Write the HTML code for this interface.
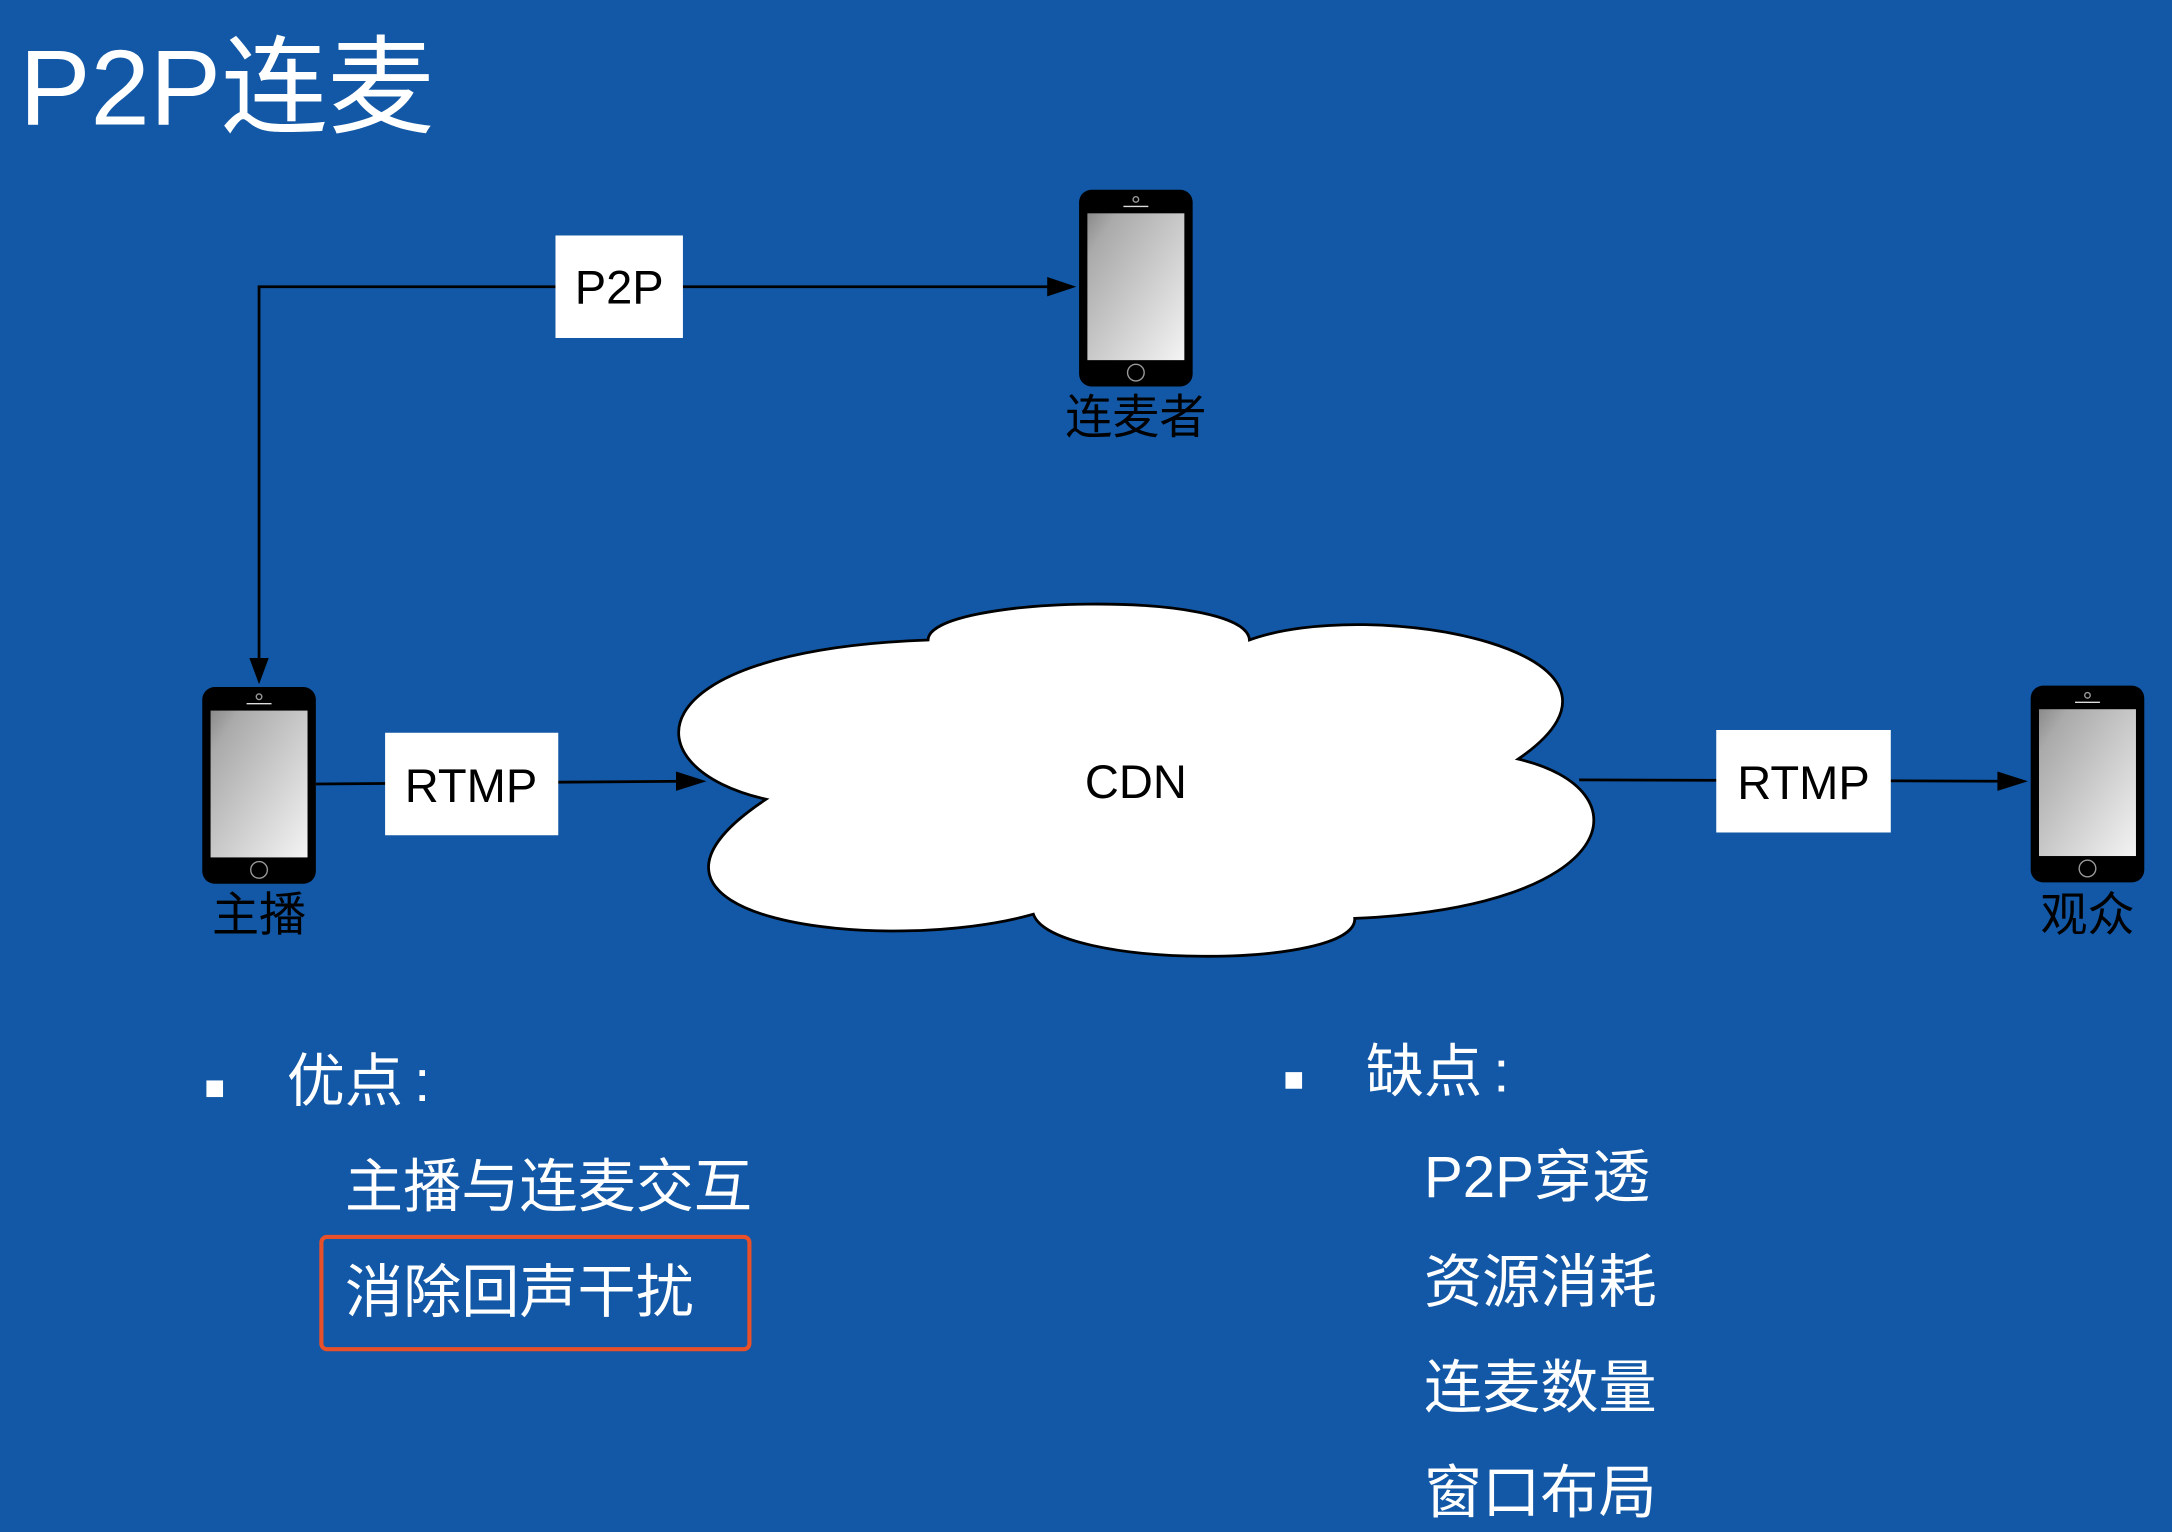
<!DOCTYPE html>
<html><head><meta charset="utf-8"><style>
html,body{margin:0;padding:0;background:#1258a6;}
svg{display:block}
text{font-family:"Liberation Sans","Noto Sans CJK SC",sans-serif;}
</style></head><body>
<svg width="2172" height="1532" viewBox="0 0 1568 1106" xmlns="http://www.w3.org/2000/svg">
<defs>
<linearGradient id="g" x1="0" y1="0" x2="1" y2="1">
<stop offset="0" stop-color="#8a8a8a"/><stop offset="0.15" stop-color="#aaa"/><stop offset="1" stop-color="#f4f4f4"/>
</linearGradient>
<g id="phone">
<rect x="0" y="0" width="82" height="142" rx="9" fill="#000"/>
<rect x="6" y="17" width="70" height="106" fill="url(#g)"/>
<circle cx="41" cy="7" r="2" fill="none" stroke="#999" stroke-width="1"/>
<line x1="32" y1="12" x2="50" y2="12" stroke="#ddd" stroke-width="1"/>
<circle cx="41" cy="132" r="6" fill="none" stroke="#999" stroke-width="1"/>
</g>
</defs>
<rect width="1568" height="1106" fill="#1258a6"/>
<text x="14" y="90" font-size="77" fill="#fff">P2P连麦</text>

<polyline points="402,207 187,207 187,478" fill="none" stroke="#000" stroke-width="2"/>
<polygon points="180,475 194,475 187,494" fill="#000"/>
<line x1="493" y1="207" x2="760" y2="207" stroke="#000" stroke-width="2"/>
<polygon points="756,200 756,214 777,207" fill="#000"/>
<rect x="401" y="170" width="92" height="74" fill="#fff"/>
<text x="447" y="219" font-size="34" text-anchor="middle" fill="#000">P2P</text>

<use href="#phone" x="779" y="137"/>
<text x="820" y="313" font-size="34" text-anchor="middle" fill="#000">连麦者</text>

<use href="#phone" x="146" y="496"/>
<text x="187" y="672" font-size="34" text-anchor="middle" fill="#000">主播</text>

<use href="#phone" x="1466" y="495"/>
<text x="1507" y="672" font-size="34" text-anchor="middle" fill="#000">观众</text>

<line x1="228" y1="566" x2="495" y2="564" stroke="#000" stroke-width="2"/>
<polygon points="488,557 488,571 510,564" fill="#000"/>
<rect x="278" y="529" width="125" height="74" fill="#fff"/>
<text x="340" y="579" font-size="34" text-anchor="middle" fill="#000">RTMP</text>

<path d="M553,577 C455,555 455,470 670,462 C670,430 900,425 902,462 C990,430 1210,470 1096,548 C1190,570 1170,655 978,663 C980,700 760,700 746,660 C640,690 420,665 553,577 Z" fill="#fff" stroke="#000" stroke-width="2"/>
<text x="820" y="576" font-size="34" text-anchor="middle" fill="#000">CDN</text>

<line x1="1140" y1="563" x2="1448" y2="564" stroke="#000" stroke-width="2"/>
<polygon points="1442,557 1442,571 1464,564" fill="#000"/>
<rect x="1239" y="527" width="126" height="74" fill="#fff"/>
<text x="1302" y="577" font-size="34" text-anchor="middle" fill="#000">RTMP</text>

<rect x="149" y="780" width="12" height="12" fill="#fff"/>
<text x="207" y="795" font-size="42" fill="#fff">优点<tspan dx="8">:</tspan></text>
<text x="249" y="871" font-size="42" fill="#fff">主播与连麦交互</text>
<rect x="232" y="893" width="309" height="81" rx="4" fill="none" stroke="#e8502a" stroke-width="3"/>
<text x="249" y="947" font-size="42" fill="#fff">消除回声干扰</text>

<rect x="928" y="774" width="12" height="12" fill="#fff"/>
<text x="986" y="788" font-size="42" fill="#fff">缺点<tspan dx="8">:</tspan></text>
<text x="1028" y="864" font-size="42" fill="#fff">P2P穿透</text>
<text x="1028" y="940" font-size="42" fill="#fff">资源消耗</text>
<text x="1028" y="1016" font-size="42" fill="#fff">连麦数量</text>
<text x="1028" y="1092" font-size="42" fill="#fff">窗口布局</text>
</svg>
</body></html>
